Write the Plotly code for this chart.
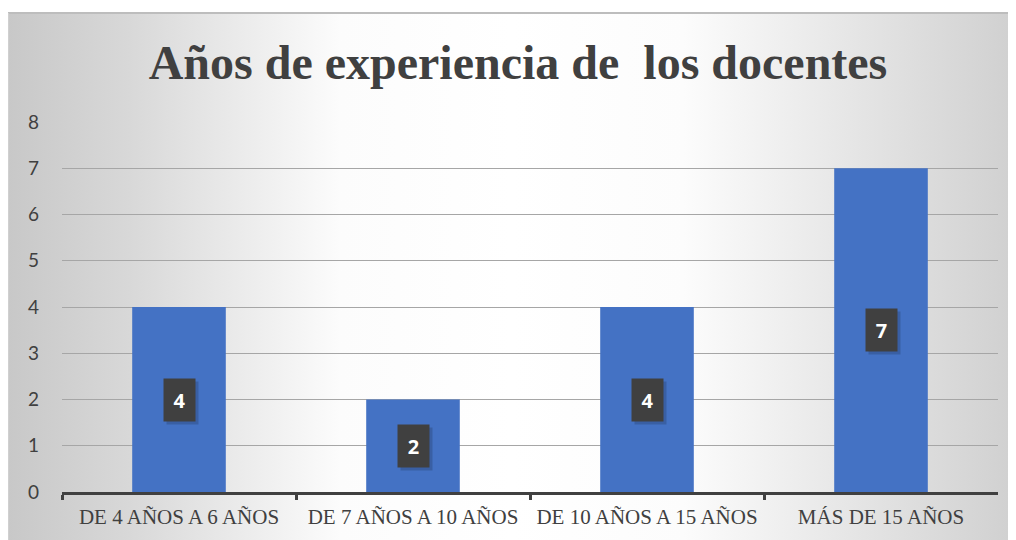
import plotly.graph_objects as go

categories = ["DE 4 AÑOS A 6 AÑOS", "DE 7 AÑOS A 10 AÑOS", "DE 10 AÑOS A 15 AÑOS", "MÁS DE 15 AÑOS"]
values = [4, 2, 4, 7]
y_ticks = [0, 1, 2, 3, 4, 5, 6, 7, 8]
title_text = "Años de experiencia de\u00a0 los docentes"

# the page body has an 8px margin, so the figure is sized to fill the rest of the window
OFF = 8
W, H = 1016 - OFF, 540 - OFF
TEXT = "#404040"


def fx(px):
    return (px - OFF) / W


def fy(py):
    return 1 - (py - OFF) / H


fig = go.Figure()

# background panel with gradient (decoration, on a hidden full-figure axis pair)
fig.add_trace(go.Scatter(
    x=[0, W, W, 0, 0], y=[0, 0, H - 5, H - 5, 0],
    xaxis="x", yaxis="y",
    mode="lines", line=dict(width=0),
    fill="toself",
    fillgradient=dict(type="horizontal", start=0, stop=W,
                      colorscale=[[0, "#c8c8c8"], [0.12, "#d8d8d8"], [0.33, "#fcfcfc"], [0.5, "#ffffff"],
                                  [0.67, "#fcfcfc"], [0.88, "#e0e0e0"], [1, "#d0d0d0"]]),
    hoverinfo="skip", showlegend=False,
))

fig.add_trace(go.Bar(
    x=categories, y=values,
    xaxis="x2", yaxis="y2",
    marker=dict(color="#4472C4", line=dict(width=0)),
    hoverinfo="x+y", showlegend=False,
))

annotations = []
for c, v in zip(categories, values):
    # shadow
    annotations.append(dict(
        x=c, y=v / 2, xref="x2", yref="y2", text=" ", showarrow=False,
        width=29, height=40, borderpad=1, bgcolor="rgba(0,0,0,0.16)",
        xshift=3, yshift=-3,
    ))
    annotations.append(dict(
        x=c, y=v / 2, xref="x2", yref="y2", text=f"<b>{v}</b>", showarrow=False,
        font=dict(family="Open Sans", size=20, color="white"),
        width=29, height=40, borderpad=1, bgcolor="#404040",
    ))

fig.update_layout(
    template="none",
    width=W, height=H,
    margin=dict(l=0, r=0, t=0, b=0, pad=0),
    paper_bgcolor="white",
    plot_bgcolor="rgba(0,0,0,0)",
    bargap=0.6,
    title=dict(text=f"<b>{title_text}</b>", x=fx(518), xanchor="center", y=fy(62), yanchor="middle",
               font=dict(family="Liberation Serif", size=48, color=TEXT)),
    xaxis=dict(domain=[0, 1], range=[0, W], visible=False, fixedrange=True, automargin=False),
    yaxis=dict(domain=[0, 1], range=[0, H], visible=False, fixedrange=True, automargin=False),
    xaxis2=dict(domain=[fx(62), fx(998)], anchor="y2", automargin=False,
                showline=True, linewidth=3, linecolor=TEXT,
                ticks="outside", tickson="boundaries", ticklen=5, tickwidth=3, tickcolor=TEXT,
                ticklabelstandoff=4, tickangle=0,
                showgrid=False, zeroline=False,
                tickfont=dict(family="Liberation Serif", size=21, color=TEXT)),
    yaxis2=dict(domain=[fy(492), fy(122)], anchor="x2", range=[0, 8], automargin=False,
                tickvals=y_ticks, showgrid=True, gridcolor="#a6a6a6", gridwidth=1,
                zeroline=False, showline=False, ticks="",
                ticklabelstandoff=22,
                tickfont=dict(family="Lato", size=19, color=TEXT)),
    annotations=annotations,
    shapes=[dict(type="line", xref="paper", yref="paper", x0=0, x1=1, y0=fy(13), y1=fy(13),
                 line=dict(color="#bdbdbd", width=2)),
            dict(type="line", xref="paper", yref="paper", x0=0.5 / W, x1=0.5 / W, y0=0, y1=fy(13),
                 line=dict(color="#d0d0d0", width=1))],
)

fig.write_html("out.html")
